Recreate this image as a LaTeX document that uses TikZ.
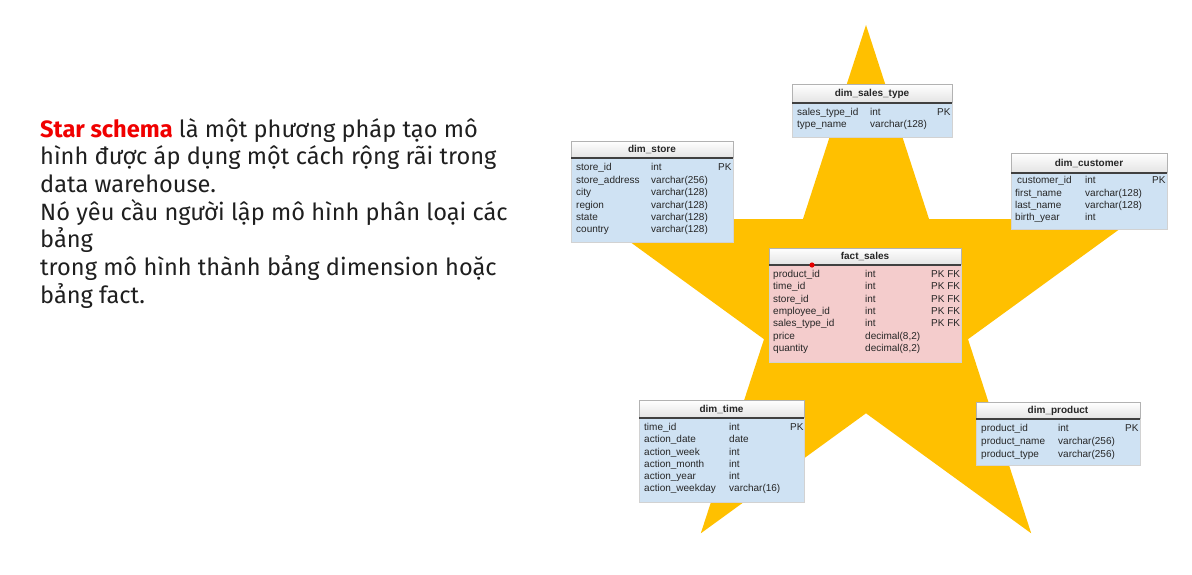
\documentclass[tikz,border=0pt]{standalone}
\usepackage{fontspec}
\setmainfont{Liberation Sans}
\newfontfamily\fira{Fira Sans}
\definecolor{starY}{HTML}{FFC000}
\definecolor{dimBlue}{HTML}{CFE2F3}
\definecolor{factPink}{HTML}{F4CCCC}
\definecolor{txtDark}{HTML}{1F1F1F}
\definecolor{hlRed}{HTML}{F00000}
\tikzset{
  cell/.style={anchor=base west, inner sep=0pt, font=\fontsize{10}{12}\selectfont, text=black!85},
  tabtitle/.style={inner sep=0pt, font=\bfseries\fontsize{10}{12}\selectfont, text=black!85},
  para/.style={anchor=base west, inner sep=0pt, font=\fira\fontsize{23.6}{28}\selectfont, text=txtDark},
}
% #1 name, #2 x1, #3 ytop, #4 x2, #5 y header bottom, #6 y bottom, #7 fill, #8 title
\newcommand{\dbtab}[8]{%
  \fill[#7] (#2,#5) rectangle (#4,#6);
  \draw[gray!35, line width=0.6pt] (#2,#5) -- (#2,#6) -- (#4,#6) -- (#4,#5);
  \shade[top color=white, bottom color=gray!22] (#2,#3) rectangle (#4,#5);
  \draw[gray!60, line width=0.6pt] (#2,#5) -- (#2,#3) -- (#4,#3) -- (#4,#5);
  \draw[black!75, line width=1.1pt] (#2,#5) -- (#4,#5);
  \node[tabtitle] (#1-title) at ({(#2+#4)/2},{(#3+#5)/2}) {#8};
}
% #1 prefix, #2 index, #3 y centre, #4 #5 #6 column x, #7 #8 #9 texts
\newcommand{\trow}[9]{%
  \node[cell] (#1-n#2) at (#4,{#3+3.6}) {#7};
  \node[cell] (#1-t#2) at (#5,{#3+3.6}) {#8};
  \node[cell] (#1-k#2) at (#6,{#3+3.6}) {#9};
}
\begin{document}
\begin{tikzpicture}[x=1pt,y=-1pt]
\useasboundingbox (0,0) rectangle (1192,574);
\fill[white] (0,0) rectangle (1192,574);

% star
\fill[starY] (866,25) -- (929.1,219.2) -- (1133.2,219.2) -- (968.0,339.2)
  -- (1031.2,533.3) -- (866,413.3) -- (700.8,533.3) -- (764.0,339.2)
  -- (598.8,219.2) -- (802.9,219.2) -- cycle;

% left text
\node[para] (l1) at (40,137) {{\bfseries\color{hlRed}Star schema} là một phương pháp tạo mô};
\node[para] (l2) at (40,164.7) {hình được áp dụng một cách rộng rãi trong};
\node[para] (l3) at (40,192.4) {data warehouse.};
\node[para] (l4) at (40,220.1) {Nó yêu cầu người lập mô hình phân loại các};
\node[para] (l5) at (40,247.8) {bảng};
\node[para] (l6) at (40,275.5) {trong mô hình thành bảng dimension hoặc};
\node[para] (l7) at (40,303.2) {bảng fact.};

% dim_sales_type
\dbtab{dst}{792}{84}{952}{103}{137}{dimBlue}{dim\_sales\_type}
\trow{dst}{1}{112}{797}{870}{937}{sales\_type\_id}{int}{PK}
\trow{dst}{2}{124}{797}{870}{937}{type\_name}{varchar(128)}{}

% dim_store
\dbtab{ds}{571}{141}{733}{158}{242}{dimBlue}{dim\_store}
\trow{ds}{1}{167}{576}{651}{718}{store\_id}{int}{PK}
\trow{ds}{2}{180}{576}{651}{718}{store\_address}{varchar(256)}{}
\trow{ds}{3}{192}{576}{651}{718}{city}{varchar(128)}{}
\trow{ds}{4}{204.5}{576}{651}{718}{region}{varchar(128)}{}
\trow{ds}{5}{217}{576}{651}{718}{state}{varchar(128)}{}
\trow{ds}{6}{229}{576}{651}{718}{country}{varchar(128)}{}

% dim_customer
\dbtab{dc}{1011}{153}{1167}{173}{229}{dimBlue}{dim\_customer}
\trow{dc}{1}{180}{1017}{1085}{1152}{customer\_id}{int}{PK}
\trow{dc}{2}{193}{1015}{1085}{1152}{first\_name}{varchar(128)}{}
\trow{dc}{3}{205}{1015}{1085}{1152}{last\_name}{varchar(128)}{}
\trow{dc}{4}{217}{1015}{1085}{1152}{birth\_year}{int}{}

% fact_sales
\dbtab{fs}{769}{248}{961}{265}{362}{factPink}{fact\_sales}
\trow{fs}{1}{274}{773}{865}{931}{product\_id}{int}{PK FK}
\trow{fs}{2}{286}{773}{865}{931}{time\_id}{int}{PK FK}
\trow{fs}{3}{299}{773}{865}{931}{store\_id}{int}{PK FK}
\trow{fs}{4}{311}{773}{865}{931}{employee\_id}{int}{PK FK}
\trow{fs}{5}{323}{773}{865}{931}{sales\_type\_id}{int}{PK FK}
\trow{fs}{6}{336}{773}{865}{931}{price}{decimal(8,2)}{}
\trow{fs}{7}{348}{773}{865}{931}{quantity}{decimal(8,2)}{}
\fill[red!90!black] (812,265) circle (2.6);

% dim_time
\dbtab{dt}{639}{400}{804}{418}{502}{dimBlue}{dim\_time}
\trow{dt}{1}{427}{644}{729}{790}{time\_id}{int}{PK}
\trow{dt}{2}{439}{644}{729}{790}{action\_date}{date}{}
\trow{dt}{3}{451.5}{644}{729}{790}{action\_week}{int}{}
\trow{dt}{4}{464}{644}{729}{790}{action\_month}{int}{}
\trow{dt}{5}{476}{644}{729}{790}{action\_year}{int}{}
\trow{dt}{6}{488}{644}{729}{790}{action\_weekday}{varchar(16)}{}

% dim_product
\dbtab{dp}{976}{402}{1140}{419}{465}{dimBlue}{dim\_product}
\trow{dp}{1}{428}{981}{1058}{1125}{product\_id}{int}{PK}
\trow{dp}{2}{441}{981}{1058}{1125}{product\_name}{varchar(256)}{}
\trow{dp}{3}{454}{981}{1058}{1125}{product\_type}{varchar(256)}{}
\end{tikzpicture}
\end{document}
